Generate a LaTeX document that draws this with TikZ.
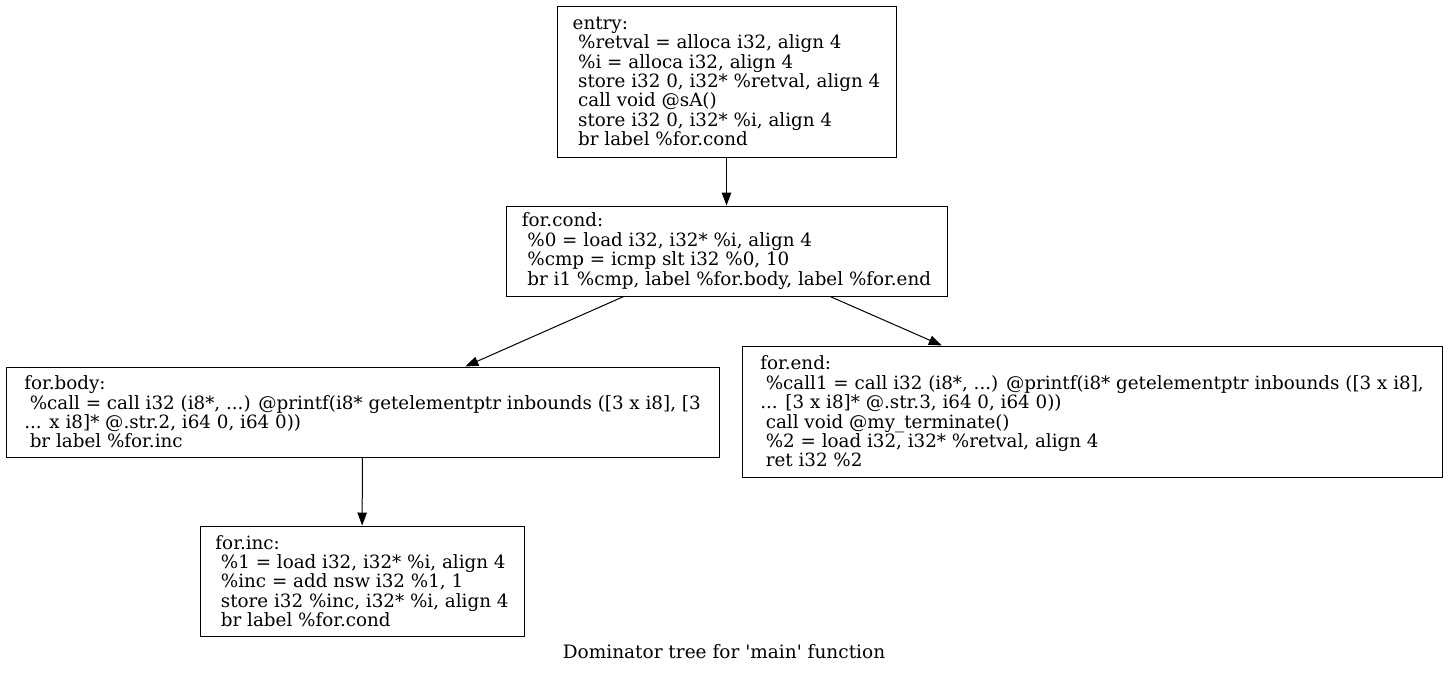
\documentclass[tikz,border=0pt]{standalone}
\usepackage{fontspec}
\setmainfont{DejaVu Serif}
\usetikzlibrary{arrows.meta}
\newcommand\lsp{\hspace*{0.3em}}
\begin{document}
\begin{tikzpicture}[x=1pt,y=-1pt,
  blk/.style={draw,line width=1pt,align=left,inner sep=0pt,font=\fontsize{18.3}{19.4}\selectfont},
  edge/.style={line width=1pt,-{Triangle[length=13pt,width=9.5pt]}},
  captext/.style={font=\fontsize{18.5}{19}\selectfont}]
\useasboundingbox (0,0) rectangle (1448,673);
\node[blk,minimum width=339pt,minimum height=151pt] (entry) at (726.5,81.5) {entry:\\
\lsp\%retval = alloca i32, align 4\\
\lsp\%i = alloca i32, align 4\\
\lsp store i32 0, i32* \%retval, align 4\\
\lsp call void @sA()\\
\lsp store i32 0, i32* \%i, align 4\\
\lsp br label \%for.cond};
\node[blk,minimum width=441pt,minimum height=90pt] (cond) at (726.5,251) {for.cond:\\
\lsp\%0 = load i32, i32* \%i, align 4\\
\lsp\%cmp = icmp slt i32 \%0, 10\\
\lsp br i1 \%cmp, label \%for.body, label \%for.end};
\node[blk,minimum width=713pt,minimum height=90pt] (body) at (362.5,412) {for.body:\\
\lsp\%call = call i32 (i8*, ...) @printf(i8* getelementptr inbounds ([3 x i8], [3\\
... x i8]* @.str.2, i64 0, i64 0))\\
\lsp br label \%for.inc};
\node[blk,minimum width=700pt,minimum height=131pt] (end) at (1092,411.5) {for.end:\\
\lsp\%call1 = call i32 (i8*, ...) @printf(i8* getelementptr inbounds ([3 x i8],\\
... [3 x i8]* @.str.3, i64 0, i64 0))\\
\lsp call void @my\_terminate()\\
\lsp\%2 = load i32, i32* \%retval, align 4\\
\lsp ret i32 \%2};
\node[blk,minimum width=324pt,minimum height=110pt] (inc) at (362,581) {for.inc:\\
\lsp\%1 = load i32, i32* \%i, align 4\\
\lsp\%inc = add nsw i32 \%1, 1\\
\lsp store i32 \%inc, i32* \%i, align 4\\
\lsp br label \%for.cond};
\node[captext] (caption) at (724,652) {Dominator tree for \textquotesingle main\textquotesingle{} function};
\draw[edge] (entry) -- (cond);
\draw[edge] (cond) -- (body);
\draw[edge] (cond) -- (end);
\draw[edge] (body) -- (inc);
\end{tikzpicture}
\end{document}
